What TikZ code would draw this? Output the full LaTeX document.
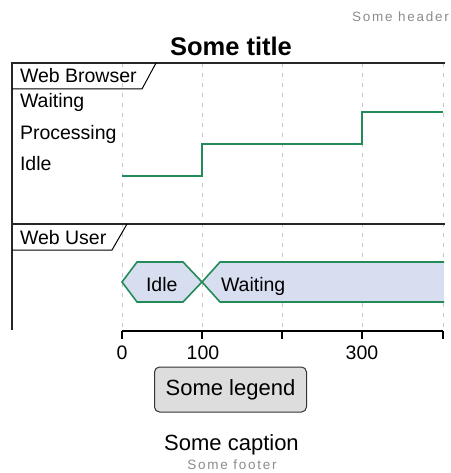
\documentclass[tikz,border=0pt]{standalone}
\usepackage{fontspec}
\setmainfont{Liberation Sans}
\usetikzlibrary{calc}
\definecolor{wavegreen}{RGB}{34,139,87}
\definecolor{statefill}{RGB}{214,222,240}
\definecolor{legendfill}{RGB}{221,221,221}
\definecolor{faintgrey}{RGB}{140,140,140}
\newcommand{\midfont}{\fontsize{19.5}{22}\selectfont}

\begin{document}
\begin{tikzpicture}[x=1pt,y=-1pt,every node/.style={inner sep=0pt,outer sep=0pt},
  lbl/.style={anchor=base west,font=\midfont},
  ticklbl/.style={anchor=base,font=\midfont},
  small/.style={font=\fontsize{13.5}{15}\selectfont\addfontfeature{LetterSpace=13},text=faintgrey},
  frame/.style={line width=2pt,black!85},
  gridln/.style={black!22,dash pattern=on 4pt off 6pt,line width=0.8pt},
  wave/.style={wavegreen,line width=1.6pt},
  statebox/.style={wavegreen,line width=1.6pt,fill=statefill}]
  \useasboundingbox (0,0) rectangle (450,473);
  \node[small,anchor=base east] (hdr) at (449,21.5) {Some header};
  \node[anchor=base,font=\fontsize{25.5}{28}\selectfont\bfseries] (ttl) at (231,56) {Some title};
  % grid
  \foreach \gx in {122,202,282,362,443} \draw[gridln] (\gx,63) -- (\gx,330);
  % frame and lanes
  \coordinate (ftop) at (12,63); \coordinate (ftopr) at (445,63); \coordinate (fbot) at (12,330);
  \coordinate (sepl) at (12,224); \coordinate (sepr) at (445,224);
  \draw[frame] (ftopr) -- (ftop) -- (fbot);
  \draw[frame] (sepl) -- (sepr);
  \draw[line width=1pt] (12,89) -- (142,89) -- (156,63);
  \draw[line width=1pt] (12,250) -- (112,250) -- (127,224);
  \node[lbl] (browser) at (20,83) {Web Browser};
  \node[lbl] (user) at (20,244) {Web User};
  \node[lbl] (swait) at (20,107.5) {Waiting};
  \node[lbl] (sproc) at (20,140) {Processing};
  \node[lbl] (sidle) at (20,171) {Idle};
  % browser waveform
  \coordinate (w0) at (122,176); \coordinate (w1) at (202,144);
  \coordinate (w2) at (362,112); \coordinate (wend) at (443,112);
  \draw[wave] (w0) -| (w1) -| (w2) -- (wend);
  % user states
  \filldraw[statebox] (122,282) -- (137,262) -- (183,262) -- (202,282) -- (183,302) -- (137,302) -- cycle;
  \fill[statefill] (202,282) -- (220,262) -- (444,262) -- (444,302) -- (220,302) -- cycle;
  \draw[wave] (444,262) -- (220,262) -- (202,282) -- (220,302) -- (444,302);
  \node[lbl] (uidle) at (146,291) {Idle};
  \node[lbl] (uwait) at (221,291) {Waiting};
  % time axis
  \coordinate (t0) at (122,331); \coordinate (tend) at (443,331);
  \draw[line width=2.5pt] (t0) -- (tend);
  \foreach \tx in {122,202,282,362,443} \draw[line width=2.5pt] (\tx,331) -- (\tx,339);
  \node[ticklbl] (l0) at (122,359) {0};
  \node[ticklbl] (l100) at (203,359) {100};
  \node[ticklbl] (l300) at (362,359) {300};
  \node[draw=black!80,fill=legendfill,rounded corners=5pt,line width=1pt,minimum width=152pt,
    minimum height=45pt,font=\fontsize{22}{26}\selectfont] (lgd) at (230.5,389.5) {Some legend};
  \node[anchor=base,font=\fontsize{22}{26}\selectfont] (cap) at (231.5,450.5) {Some caption};
  \node[small,anchor=base] (ftr) at (232,469.5) {Some footer};
\end{tikzpicture}
\end{document}
